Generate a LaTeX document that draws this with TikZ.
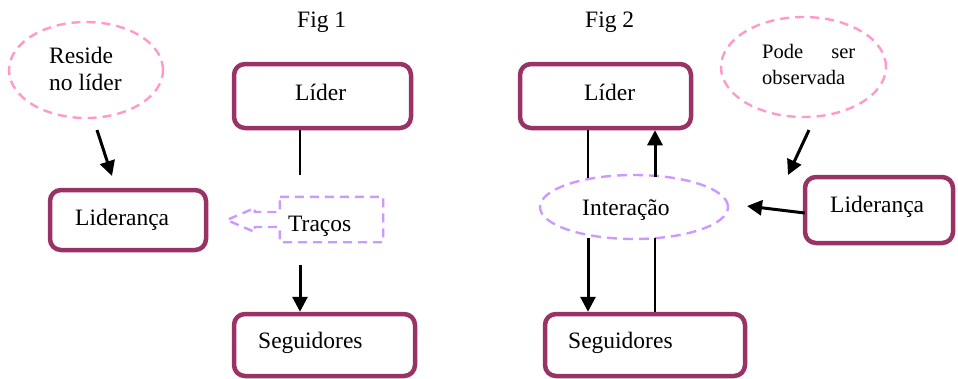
\documentclass[tikz,border=0pt]{standalone}
\usepackage{fontspec}
\setmainfont{Liberation Serif}
\usetikzlibrary{arrows.meta,calc,shapes.geometric}
\definecolor{plum}{HTML}{993366}
\definecolor{rosy}{HTML}{FF99CC}
\definecolor{lilac}{HTML}{CC99FF}
\begin{document}
\begin{tikzpicture}[x=1pt,y=-1pt,
  box/.style={draw=plum, line width=4.5pt, rounded corners=11pt, inner sep=0pt, fill=white},
  bubble/.style={ellipse, draw=#1, line width=2.4pt, dash pattern=on 9pt off 6pt, inner sep=0pt},
  lbl/.style={anchor=base west, inner sep=0pt, font=\fontsize{23.5}{27}\selectfont},
  smalllbl/.style={anchor=base west, inner sep=0pt, font=\fontsize{20.5}{26}\selectfont},
  arr/.style={line width=3pt, -{Triangle[length=15pt,width=15pt]}},
  ln/.style={line width=2pt}]
\useasboundingbox (0,0) rectangle (958,378);

% titles
\node[lbl] (fig1) at (297,27) {Fig 1};
\node[lbl] (fig2) at (585,27) {Fig 2};

% ---- Fig 1 ----
\node[bubble=rosy, minimum width=154pt, minimum height=96pt] (reside) at (86,70) {};
\node[lbl] (residet) at (49,63) {\begin{tabular}[t]{@{}l@{}}Reside\\no líder\end{tabular}};

\node[box, minimum width=156pt, minimum height=60pt] (lid1) at (128,220) {};
\node[lbl] (lid1t) at (75,225) {Liderança};

\node[box, minimum width=177pt, minimum height=64pt] (lider1) at (322.5,96) {};
\node[lbl] (lider1t) at (295,100) {Líder};

\node[box, minimum width=181pt, minimum height=62pt] (seg1) at (324.5,345) {};
\node[lbl] (seg1t) at (258,348) {Seguidores};

% callout holding the traits
\node[minimum width=103pt, minimum height=45pt, inner sep=0pt] (tracos) at (331.5,219.5) {};
\draw[lilac, line width=2.4pt, dash pattern=on 9pt off 6pt]
  (tracos.north west) -- (tracos.north east) -- (tracos.south east) -- (tracos.south west)
  -- ($(tracos.west)+(0,7.5)$) -- ++(-25,0) -- ++(0,5) -- ($(tracos.west)+(-53,0.5)$)
  -- ($(tracos.west)+(-25,-11.5)$) -- ++(0,4) -- ($(tracos.west)+(0,-7.5)$) -- cycle;
\node[lbl] (tracost) at (288,231) {Traços};

\coordinate (r1) at (97,130);
\coordinate (r2) at (112,176);
\draw[arr] (r1) -- (r2);

\coordinate (f1a) at (300,175);
\draw[ln] (lider1.south -| f1a) -- (f1a);
\coordinate (f1b) at (300,265);
\draw[arr] (f1b) -- (f1b |- seg1.north);

% ---- Fig 2 ----
\node[box, minimum width=171pt, minimum height=64pt] (lider2) at (605.5,96) {};
\node[lbl] (lider2t) at (584,100) {Líder};

\node[bubble=lilac, minimum width=188pt, minimum height=64pt, dash pattern=on 10pt off 6pt] (inter) at (634,207) {};
\node[lbl] (intert) at (582,215) {Interação};

\node[box, minimum width=200pt, minimum height=62pt] (seg2) at (645,345) {};
\node[lbl] (seg2t) at (568,348) {Seguidores};

\node[bubble=rosy, minimum width=165pt, minimum height=100pt] (pode) at (803.5,67) {};
\node[smalllbl] (podet) at (762,58) {\begin{tabular}[t]{@{}p{93pt}@{}}Pode\hfill ser\\observada\end{tabular}};

\node[box, minimum width=148pt, minimum height=66pt] (lid2) at (879,210) {};
\node[lbl] (lid2t) at (830,212) {Liderança};

\coordinate (g1) at (588,178);
\draw[ln] (lider2.south -| g1) -- (g1);
\coordinate (g2) at (655,177);
\draw[arr] (g2) -- (g2 |- lider2.south);
\coordinate (g3) at (588,238);
\draw[arr] (g3) -- (g3 |- seg2.north);
\coordinate (g4) at (655,238);
\draw[ln] (g4) -- (g4 |- seg2.north);

\coordinate (p1) at (809,130);
\coordinate (p2) at (788,175);
\draw[arr] (p1) -- (p2);

\coordinate (q1) at (747,206);
\draw[arr] ($(lid2.west)+(2,3)$) -- (q1);
\end{tikzpicture}
\end{document}
